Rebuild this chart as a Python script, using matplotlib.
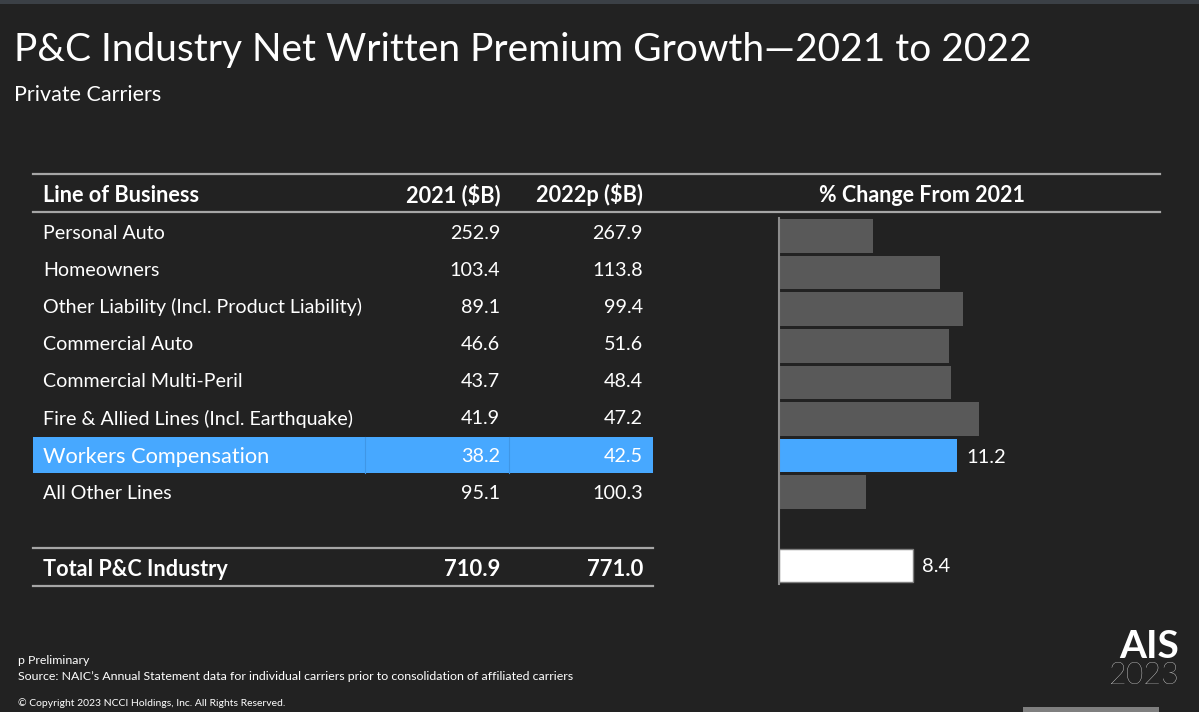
import matplotlib
matplotlib.use("Agg")
import matplotlib.pyplot as plt
from matplotlib.patches import Rectangle
from matplotlib.lines import Line2D

plt.rcParams['font.family'] = ['Lato', 'DejaVu Sans']

# ---- data ----
lines_of_business = ["Personal Auto", "Homeowners", "Other Liability (Incl. Product Liability)",
                     "Commercial Auto", "Commercial Multi-Peril", "Fire & Allied Lines (Incl. Earthquake)",
                     "Workers Compensation", "All Other Lines"]
premium_2021 = ["252.9", "103.4", "89.1", "46.6", "43.7", "41.9", "38.2", "95.1"]
premium_2022p = ["267.9", "113.8", "99.4", "51.6", "48.4", "47.2", "42.5", "100.3"]
pct_change = [5.9, 10.1, 11.6, 10.7, 10.8, 12.6, 11.2, 5.5]
total_label = "Total P&C Industry"
total_2021 = "710.9"
total_2022p = "771.0"
total_pct = 8.4
highlight = "Workers Compensation"

BG = "#222222"
BLUE = "#47A8FF"
GRAY = "#595959"
W, H = 1199, 712

fig = plt.figure(figsize=(W / 100, H / 100), dpi=100, facecolor=BG)

def fx(x):
    return x / W

def fy(y):
    return 1 - y / H

def ftext(x, y, s, **kw):
    kw.setdefault("color", "white")
    kw.setdefault("va", "center")
    fig.text(fx(x), fy(y), s, **kw)

def hline(x0, x1, y, color="#A6A6A6", lw=1.6):
    fig.add_artist(Line2D([fx(x0), fx(x1)], [fy(y), fy(y)], color=color, lw=lw,
                          transform=fig.transFigure))

def rect(x0, y0, x1, y1, color, **kw):
    fig.add_artist(Rectangle((fx(x0), fy(y1)), fx(x1) - fx(x0), fy(y0) - fy(y1),
                             transform=fig.transFigure, facecolor=color, edgecolor="none", **kw))

# top strip
rect(0, 0, W, 4, "#3b4046")

# title
ftext(14, 50, "P&C Industry Net Written Premium Growth\u20142021 to 2022", fontsize=28)
ftext(14, 95, "Private Carriers", fontsize=15.5)

# header
hline(33, 1160, 174)
hline(33, 1160, 212)
ftext(43, 195, "Line of Business", fontsize=15.7, fontweight="bold")
ftext(500, 195, "2021 ($B)", fontsize=15.7, fontweight="bold", ha="right")
ftext(643, 195, "2022p ($B)", fontsize=15.7, fontweight="bold", ha="right")
ftext(922, 195, "% Change From 2021", fontsize=15.5, fontweight="bold", ha="center")

# rows
row_y0 = 233
pitch = 37.2
for i, (name, a, b) in enumerate(zip(lines_of_business, premium_2021, premium_2022p)):
    y = row_y0 + i * pitch
    if name == highlight:
        rect(33, 437, 653, 473, BLUE)
        for xs in (365, 509):
            fig.add_artist(Line2D([fx(xs), fx(xs)], [fy(437), fy(473)], color="#3f96e6",
                                  lw=0.8, transform=fig.transFigure))
        ftext(43, 457, name, fontsize=15.7)
        ftext(500, 457, a, fontsize=14.2, ha="right")
        ftext(643, 457, b, fontsize=14.2, ha="right")
    else:
        ftext(43, y, name, fontsize=14.1)
        ftext(500, y, a, fontsize=14.2, ha="right")
        ftext(643, y, b, fontsize=14.2, ha="right")

# total
hline(33, 653, 548)
hline(33, 653, 586)
ftext(43, 569, total_label, fontsize=15.6, fontweight="bold")
ftext(500, 569, total_2021, fontsize=15.8, fontweight="bold", ha="right")
ftext(643, 569, total_2022p, fontsize=15.8, fontweight="bold", ha="right")

# bar chart axes
bar_center0 = 236
bar_pitch = 36.6
ax_top = bar_center0 - 0.5 * bar_pitch
ax_bot = bar_center0 + 9.5 * bar_pitch
ax_left, ax_right = 779, 1097
ax = fig.add_axes([fx(ax_left), fy(ax_bot), fx(ax_right) - fx(ax_left), fy(ax_top) - fy(ax_bot)])
ax.set_facecolor("none")
ax.set_xlim(0, 20)
ax.set_ylim(9.5, -0.5)
positions = list(range(len(pct_change)))
colors = [BLUE if n == highlight else GRAY for n in lines_of_business]
ax.barh(positions, pct_change, height=0.92, color=colors, edgecolor="none")
ax.barh([9], [total_pct], height=0.92, color="white", edgecolor="#7f7f7f", lw=1)
for p, v, n in zip(positions, pct_change, lines_of_business):
    if n == highlight:
        ax.text(v + 0.6, p + 0.04, f"{v:.1f}", color="white", fontsize=14.5, va="center")
ax.text(total_pct + 0.6, 9 + 0.04, f"{total_pct:.1f}", color="white", fontsize=14.5, va="center")
for s in ["top", "right", "bottom"]:
    ax.spines[s].set_visible(False)
ax.spines["left"].set_color("#8c8c8c")
ax.spines["left"].set_linewidth(1.5)
ax.set_xticks([])
ax.set_yticks([])

# footnotes
ftext(18, 661, "p Preliminary", fontsize=8.9)
ftext(18, 677, "Source: NAIC\u2019s Annual Statement data for individual carriers prior to consolidation of affiliated carriers", fontsize=8.9)
ftext(18, 703, "\u00a9 Copyright 2023 NCCI Holdings, Inc. All Rights Reserved.", fontsize=7.5)

# logo
ftext(1179, 647, "AIS", fontsize=28, fontweight="bold", ha="right")
ftext(1180, 676, "2023", fontsize=22, fontweight="light", ha="right")
rect(1023, 707, 1159, 712, "#7f7f7f")

fig.savefig("out.png", dpi=100, facecolor=BG)
